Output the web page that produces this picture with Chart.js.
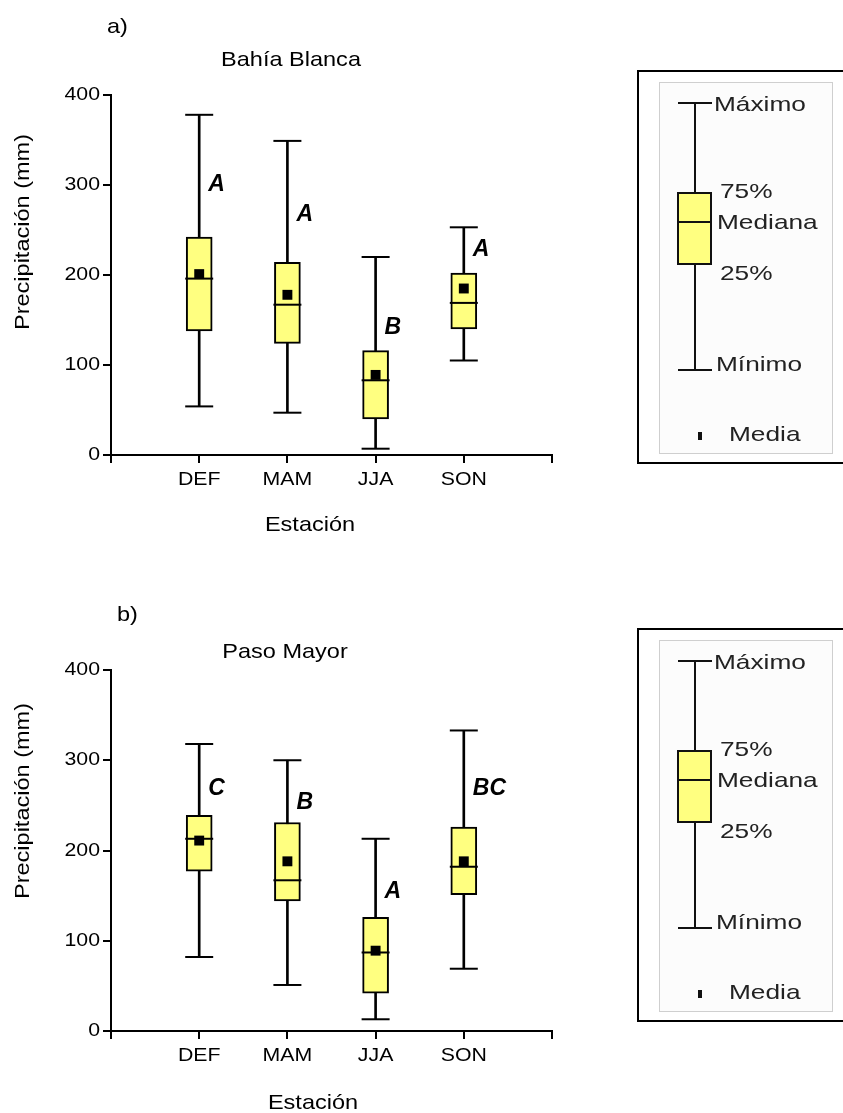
<!DOCTYPE html>
<html lang="es">
<head>
<meta charset="utf-8">
<title>Precipitación estacional</title>
<script src="https://cdn.jsdelivr.net/npm/chart.js@4.4.1/dist/chart.umd.min.js"></script>
<style>
  html, body { margin: 0; padding: 0; background: #fff; }
  #wrap { position: relative; width: 843px; height: 1113px; }
  canvas { position: absolute; left: 0; }
  #chartBB { top: 0; }
  #chartPM { top: 556px; }
</style>
</head>
<body>
<div id="wrap">
  <canvas id="chartBB" width="843" height="556"></canvas>
  <canvas id="chartPM" width="843" height="557"></canvas>
</div>
<script>
const FONT = "'Liberation Sans', Arial, sans-serif";

const seasons = ["DEF", "MAM", "JJA", "SON"];
const yTicks = [0, 100, 200, 300, 400];

// Bahía Blanca (mm)
const bbMin = [54, 47, 7, 105];
const bbQ1 = [138, 124, 40, 140];
const bbMedian = [196, 167, 83, 169];
const bbQ3 = [242, 214, 116, 202];
const bbMax = [378, 349, 220, 253];
const bbMean = [201, 178, 89, 185];
const bbGroups = ["A", "A", "B", "A"];
const bbGroupAt = [300, 267, 141, 228];

// Paso Mayor (mm)
const pmMin = [82, 51, 13, 69];
const pmQ1 = [177, 144, 42, 151];
const pmMedian = [213, 167, 87, 182];
const pmQ3 = [239, 231, 126, 226];
const pmMax = [318, 300, 213, 333];
const pmMean = [211, 188, 89, 188];
const pmGroups = ["C", "B", "A", "BC"];
const pmGroupAt = [269, 253, 154, 269];

Chart.defaults.font.family = FONT;
Chart.defaults.color = "#000";

const YELLOW = "#ffff80";
const STRETCH = 1.12;   // letra un poco ensanchada

// Texto ensanchado en la dirección de lectura
function wideText(ctx, txt, x, y, opts = {}) {
    ctx.save();
    ctx.font = opts.font || `21px ${FONT}`;
    ctx.fillStyle = opts.color || "#000";
    ctx.textAlign = opts.align || "left";
    ctx.textBaseline = "middle";
    ctx.translate(x, y);
    if (opts.rotate) ctx.rotate(opts.rotate);
    ctx.scale(opts.stretch || STRETCH, 1);
    ctx.fillText(txt, 0, 0);
    ctx.restore();
}

// Rótulos de los ticks, ubicados con las escalas del gráfico
const tickLabels = {
    id: "tickLabels",
    afterDraw(chart) {
        const { ctx, scales, chartArea } = chart;
        const font = `19px ${FONT}`;
        yTicks.forEach(v => {
            wideText(ctx, String(v), chartArea.left - 11, scales.y.getPixelForValue(v),
                { font, align: "right" });
        });
        seasons.forEach((name, i) => {
            wideText(ctx, name, scales.x.getPixelForValue(i + 1), chartArea.bottom + 25,
                { font, align: "center" });
        });
    }
};

// Letras de significancia junto a cada caja
const groupLetters = {
    id: "groupLetters",
    afterDatasetsDraw(chart, args, opts) {
        const { ctx, scales } = chart;
        opts.letters.forEach((txt, i) => {
            const x = scales.x.getPixelForValue(i + 1) + 9;
            const y = scales.y.getPixelForValue(opts.at[i]);
            wideText(ctx, txt, x, y, { font: `italic bold 23px ${FONT}`, stretch: 1 });
        });
    }
};

// Cuadro explicativo del diagrama de caja
function drawKey(ctx, ox, oy) {
    ctx.save();
    ctx.strokeStyle = "#000";
    ctx.lineWidth = 2;
    ctx.strokeRect(ox, oy, 230, 392);

    ctx.fillStyle = "#fcfcfc";
    ctx.fillRect(ox + 21, oy + 11, 173, 371);
    ctx.strokeStyle = "#cfcfcf";
    ctx.lineWidth = 1;
    ctx.strokeRect(ox + 21.5, oy + 11.5, 173, 371);

    ctx.strokeStyle = "#111";
    ctx.lineWidth = 2;
    ctx.beginPath();
    ctx.moveTo(ox + 57, oy + 32); ctx.lineTo(ox + 57, oy + 299);
    ctx.moveTo(ox + 40, oy + 32); ctx.lineTo(ox + 74, oy + 32);
    ctx.moveTo(ox + 40, oy + 299); ctx.lineTo(ox + 74, oy + 299);
    ctx.stroke();

    ctx.fillStyle = YELLOW;
    ctx.fillRect(ox + 40, oy + 122, 33, 71);
    ctx.strokeRect(ox + 40, oy + 122, 33, 71);
    ctx.beginPath();
    ctx.moveTo(ox + 40, oy + 151); ctx.lineTo(ox + 73, oy + 151);
    ctx.stroke();

    ctx.fillStyle = "#111";
    ctx.fillRect(ox + 60, oy + 361, 4, 8);
    ctx.restore();

    const key = { font: `21px ${FONT}`, color: "#222", stretch: 1.25 };
    wideText(ctx, "Máximo", ox + 76, oy + 34, key);
    wideText(ctx, "75%", ox + 82, oy + 121, key);
    wideText(ctx, "Mediana", ox + 79, oy + 152, key);
    wideText(ctx, "25%", ox + 82, oy + 203, key);
    wideText(ctx, "Mínimo", ox + 78, oy + 294, key);
    wideText(ctx, "Media", ox + 91, oy + 364, key);
}

// Rótulos del panel: letra, estación meteorológica, títulos de ejes y cuadro
const panelDecor = {
    id: "panelDecor",
    afterDraw(chart, args, opts) {
        const ctx = chart.ctx;
        wideText(ctx, opts.tag, opts.tagX, opts.tagY);
        wideText(ctx, opts.title, opts.titleX, opts.titleY, { align: "center" });
        wideText(ctx, "Estación", opts.xTitleX, opts.xTitleY, { align: "center" });
        wideText(ctx, "Precipitación (mm)", opts.yTitleX, opts.yTitleY,
            { align: "center", rotate: -Math.PI / 2 });
        drawKey(ctx, opts.keyX, opts.keyY);
    }
};

function boxPlot(canvasId, s, decor) {
    const pos = seasons.map((_, i) => i + 1);
    const capStyle = {
        type: "scatter",
        pointStyle: "line",
        pointRadius: 14,
        borderWidth: 2,
        borderColor: "#000"
    };

    return new Chart(document.getElementById(canvasId), {
        type: "bar",
        data: {
            datasets: [
                {
                    // bigote (mínimo - máximo)
                    data: pos.map((x, i) => ({ x, y: [s.min[i], s.max[i]] })),
                    backgroundColor: "#000",
                    barThickness: 2,
                    grouped: false,
                    order: 6
                },
                {
                    // caja (25% - 75%)
                    data: pos.map((x, i) => ({ x, y: [s.q1[i], s.q3[i]] })),
                    backgroundColor: YELLOW,
                    borderColor: "#000",
                    borderWidth: 2,
                    borderSkipped: false,
                    barThickness: 26,
                    grouped: false,
                    order: 5
                },
                { ...capStyle, data: pos.map((x, i) => ({ x, y: s.max[i] })), order: 4 },
                { ...capStyle, data: pos.map((x, i) => ({ x, y: s.min[i] })), order: 4 },
                { ...capStyle, data: pos.map((x, i) => ({ x, y: s.median[i] })), order: 3 },
                {
                    type: "scatter",
                    data: pos.map((x, i) => ({ x, y: s.mean[i] })),
                    pointStyle: "rect",
                    pointRadius: 7,
                    backgroundColor: "#000",
                    borderWidth: 0,
                    order: 1
                }
            ]
        },
        options: {
            responsive: false,
            animation: false,
            events: [],
            layout: {
                padding: { left: 0, right: 291, top: decor.top, bottom: decor.bottom }
            },
            plugins: {
                legend: { display: false },
                tooltip: { enabled: false },
                groupLetters: { letters: s.letters, at: s.letterAt },
                panelDecor: decor
            },
            scales: {
                x: {
                    type: "linear",
                    min: 0,
                    max: 5,
                    offset: false,
                    afterBuildTicks: axis => {
                        axis.ticks = [0, 1, 2, 3, 4, 5].map(v => ({ value: v }));
                    },
                    afterFit: axis => { axis.height = 60; },
                    ticks: { display: false },
                    grid: {
                        offset: false,
                        drawOnChartArea: false,
                        color: "#000",
                        lineWidth: 2,
                        tickLength: 8
                    },
                    border: { color: "#000", width: 2 }
                },
                y: {
                    min: 0,
                    max: 400,
                    afterBuildTicks: axis => {
                        axis.ticks = yTicks.map(v => ({ value: v }));
                    },
                    afterFit: axis => { axis.width = 111; },
                    ticks: { display: false },
                    grid: {
                        drawOnChartArea: false,
                        color: "#000",
                        lineWidth: 2,
                        tickLength: 8
                    },
                    border: { color: "#000", width: 2 }
                }
            }
        },
        plugins: [tickLabels, groupLetters, panelDecor]
    });
}

boxPlot("chartBB", {
    min: bbMin, q1: bbQ1, median: bbMedian, q3: bbQ3, max: bbMax, mean: bbMean,
    letters: bbGroups, letterAt: bbGroupAt
}, {
    top: 95, bottom: 41,
    tag: "a)", tagX: 107, tagY: 27,
    title: "Bahía Blanca", titleX: 291, titleY: 60,
    xTitleX: 310, xTitleY: 525,
    yTitleX: 23, yTitleY: 232,
    keyX: 638, keyY: 71
});

boxPlot("chartPM", {
    min: pmMin, q1: pmQ1, median: pmMedian, q3: pmQ3, max: pmMax, mean: pmMean,
    letters: pmGroups, letterAt: pmGroupAt
}, {
    top: 114, bottom: 22,
    tag: "b)", tagX: 117, tagY: 59,
    title: "Paso Mayor", titleX: 285, titleY: 96,
    xTitleX: 313, xTitleY: 547,
    yTitleX: 23, yTitleY: 245,
    keyX: 638, keyY: 73
});
</script>
</body>
</html>
